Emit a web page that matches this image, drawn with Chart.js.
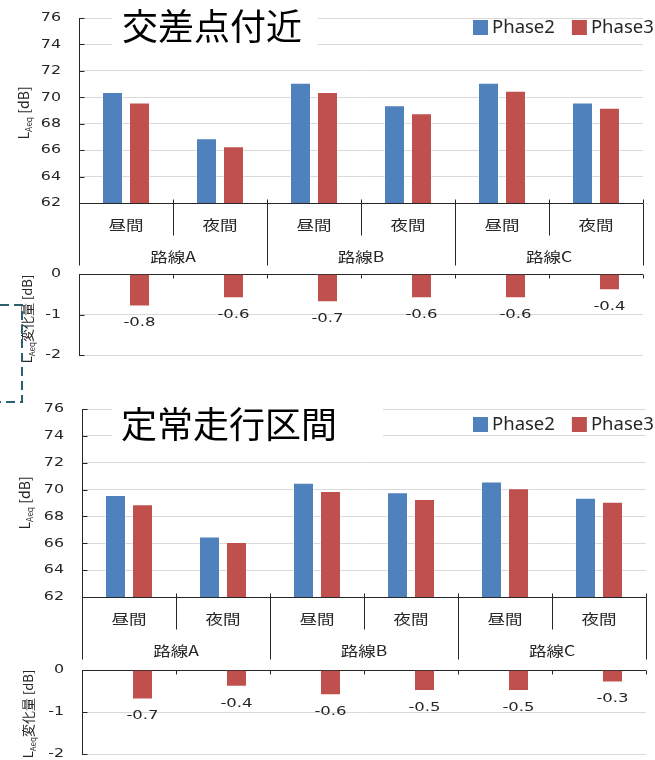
<!DOCTYPE html>
<html lang="ja">
<head>
<meta charset="utf-8">
<title>LAeq Phase2 / Phase3</title>
<script src="https://cdn.jsdelivr.net/npm/chart.js@4.4.1/dist/chart.umd.min.js"></script>
<style>
  html, body { margin: 0; padding: 0; background: #fff; }
  #page { position: relative; width: 655px; height: 760px; overflow: hidden; background: #fff; }
  #page canvas { position: absolute; left: 0; }
  #page svg { position: absolute; left: 0; }
</style>
</head>
<body>
<div id="page">
  <canvas id="crossLevel" width="655" height="270" style="top:0px"></canvas>
  <canvas id="crossChange" width="655" height="138" style="top:262px"></canvas>
  <canvas id="cruiseLevel" width="655" height="270" style="top:395px"></canvas>
  <canvas id="cruiseChange" width="655" height="100" style="top:660px"></canvas>
  <svg width="30" height="110" style="top:300px">
    <path d="M0 5 H22 V102 H0" fill="none" stroke="#2a6070" stroke-width="2" stroke-dasharray="9 5"/>
  </svg>
</div>
<script>
// categories
const groups = ['路線A', '路線B', '路線C'];
const periods = ['昼間', '夜間', '昼間', '夜間', '昼間', '夜間'];
const seriesNames = ['Phase2', 'Phase3'];

// tick labels
const levelTicks = [62, 64, 66, 68, 70, 72, 74, 76];
const changeTicks = [0, -1, -2];

// 交差点付近  LAeq [dB]
const crossPhase2 = [70.4, 66.9, 71.1, 69.4, 71.1, 69.6];
const crossPhase3 = [69.6, 66.3, 70.4, 68.8, 70.5, 69.2];
const crossChange = [-0.8, -0.6, -0.7, -0.6, -0.6, -0.4];

// 定常走行区間  LAeq [dB]
const cruisePhase2 = [69.6, 66.5, 70.5, 69.8, 70.6, 69.4];
const cruisePhase3 = [68.9, 66.1, 69.9, 69.3, 70.1, 69.1];
const cruiseChange = [-0.7, -0.4, -0.6, -0.5, -0.5, -0.3];

const noBars = [null, null, null, null, null, null];

const BLUE = '#4F81BD';
const RED = '#C0504D';
const GRID = '#d9d9d9';
const AXIS = '#262626';
const TEXT = '#262626';
const FONT_CJK = '"Noto Sans CJK JP", "Noto Sans CJK SC", sans-serif';
const FONT_NUM = '"DejaVu Sans", Verdana, sans-serif';
const FONT_LATIN = '"Noto Sans", "Open Sans", sans-serif';

// text with an optional horizontal stretch around its anchor point
function drawText(ctx, str, x, y, font, color, align, sx, baseline) {
  ctx.save();
  ctx.font = font;
  ctx.fillStyle = color;
  ctx.textAlign = align || 'center';
  ctx.textBaseline = baseline || 'middle';
  ctx.translate(x, y);
  ctx.scale(sx || 1, 1);
  ctx.fillText(str, 0, 0);
  ctx.restore();
}

// rotated axis title: main + subscript + rest, centred on (cx, cy)
function drawAxisTitle(ctx, t) {
  ctx.save();
  ctx.translate(t.x, t.y);
  ctx.rotate(-Math.PI / 2);
  ctx.fillStyle = TEXT;
  ctx.textAlign = 'left';
  ctx.textBaseline = 'alphabetic';
  const big = `${t.size}px ${FONT_CJK}`;
  const small = `${t.subSize}px ${FONT_CJK}`;
  ctx.font = big;
  const w1 = ctx.measureText(t.main).width;
  const w3 = ctx.measureText(t.rest).width;
  ctx.font = small;
  const w2 = ctx.measureText(t.sub).width;
  let x = -(w1 + w2 + w3) / 2;
  const base = t.size * 0.36;
  ctx.font = big;
  ctx.fillText(t.main, x, base);
  x += w1;
  ctx.font = small;
  ctx.fillText(t.sub, x, base + t.size * 0.22);
  x += w2;
  ctx.font = big;
  ctx.fillText(t.rest, x, base);
  ctx.restore();
}

const panelDecor = {
  id: 'panelDecor',
  afterDraw(chart, args, o) {
    const ctx = chart.ctx;
    const xs = chart.scales.x;
    const ys = chart.scales.y;
    const area = chart.chartArea;
    const n = chart.data.labels.length;
    const half = (xs.getPixelForValue(1) - xs.getPixelForValue(0)) / 2;
    const edges = [];
    for (let i = 0; i <= n; i++) {
      edges.push(i < n ? xs.getPixelForValue(i) - half : xs.getPixelForValue(n - 1) + half);
    }
    const px = v => Math.round(v) + 0.5;
    ctx.save();
    ctx.strokeStyle = AXIS;
    ctx.lineWidth = 1;
    const line = (x1, y1, x2, y2) => {
      ctx.beginPath(); ctx.moveTo(x1, y1); ctx.lineTo(x2, y2); ctx.stroke();
    };

    // value axis: inner tick marks and labels
    ys.ticks.forEach(t => {
      const y = ys.getPixelForValue(t.value);
      line(px(area.left), px(y), px(area.left) + 5, px(y));
      drawText(ctx, String(t.value), area.left - 18, y, `12.5px ${FONT_NUM}`, TEXT, 'right', 1.27);
    });

    if (o.kind === 'level') {
      // two-level category axis below the plot
      const yb = px(area.bottom);
      edges.forEach((x, i) => {
        line(px(x), yb - 4, px(x), yb);
        line(px(x), yb, px(x), yb + (i % 2 === 0 ? 62 : 32));
      });
      chart.data.labels.forEach((lab, i) => {
        drawText(ctx, lab, xs.getPixelForValue(i), area.bottom + 21.5, `14px ${FONT_CJK}`, TEXT, 'center', 1.25);
      });
      groups.forEach((g, k) => {
        const cx = (xs.getPixelForValue(2 * k) + xs.getPixelForValue(2 * k + 1)) / 2;
        drawText(ctx, g, cx, area.bottom + 53.5, `14px ${FONT_CJK}`, TEXT, 'center', 1.25);
      });

      // panel title on a white box
      ctx.fillStyle = '#ffffff';
      ctx.fillRect(o.box[0], o.box[1], o.box[2] - o.box[0], o.box[3] - o.box[1]);
      drawText(ctx, o.title, o.titleX, o.titleY, `36px ${FONT_CJK}`, '#000000', 'center', 1);

      // legend
      let lx = o.legendX;
      chart.data.datasets.forEach(ds => {
        ctx.fillStyle = ds.backgroundColor;
        ctx.fillRect(lx, o.legendY - 7.5, 15, 15);
        ctx.font = `18.5px ${FONT_LATIN}`;
        const w = ctx.measureText(ds.label).width;
        drawText(ctx, ds.label, lx + 19, o.legendY, `18.5px ${FONT_LATIN}`, TEXT, 'left', 1);
        lx += 19 + w + 17;
      });
    } else {
      // category axis along the zero line at the top
      const yt = px(area.top);
      edges.forEach(x => line(px(x), yt, px(x), yt + 4));
      // value labels under the bars
      const ds = chart.data.datasets[1];
      chart.getDatasetMeta(1).data.forEach((bar, i) => {
        drawText(ctx, ds.data[i].toFixed(1), bar.x, bar.y + 16.5, `13px ${FONT_NUM}`, TEXT, 'center', 1.27);
      });
    }

    drawAxisTitle(ctx, o.axisTitle);
    ctx.restore();
  }
};

function baseOptions(frame, yCfg, decor) {
  return {
    responsive: false,
    animation: false,
    devicePixelRatio: 1,
    events: [],
    layout: { padding: { left: 0, right: frame.right, top: frame.top, bottom: frame.bottom } },
    scales: {
      x: { display: false },
      y: {
        min: yCfg.min,
        max: yCfg.max,
        afterBuildTicks: s => { s.ticks = yCfg.ticks.map(v => ({ value: v })); },
        afterFit: s => { s.width = frame.left; },
        ticks: { display: false },
        grid: {
          drawTicks: false,
          lineWidth: 1,
          color: c => (c.tick && c.tick.value === yCfg.base ? AXIS : GRID)
        },
        border: { display: true, color: AXIS, width: 1 }
      }
    },
    plugins: {
      legend: { display: false },
      tooltip: { enabled: false },
      panelDecor: decor
    }
  };
}

const barShape = { categoryPercentage: 0.5745, barPercentage: 0.7778, borderWidth: 1 };

function levelChart(id, p2, p3, frame, decor) {
  return new Chart(document.getElementById(id), {
    type: 'bar',
    data: {
      labels: periods,
      datasets: [
        Object.assign({ label: seriesNames[0], data: p2, backgroundColor: BLUE, borderColor: 'rgba(255,255,255,0.35)' }, barShape),
        Object.assign({ label: seriesNames[1], data: p3, backgroundColor: RED, borderColor: 'rgba(255,255,255,0.35)' }, barShape)
      ]
    },
    options: baseOptions(frame, { min: 62, max: 76, ticks: levelTicks, base: 62 }, Object.assign({ kind: 'level' }, decor)),
    plugins: [panelDecor]
  });
}

function changeChart(id, change, frame, decor) {
  return new Chart(document.getElementById(id), {
    type: 'bar',
    data: {
      labels: periods,
      datasets: [
        Object.assign({ label: seriesNames[0], data: noBars, backgroundColor: BLUE }, barShape),
        Object.assign({ label: seriesNames[1], data: change, backgroundColor: RED, borderColor: 'rgba(255,255,255,0.35)' }, barShape)
      ]
    },
    options: baseOptions(frame, { min: -2, max: 0, ticks: changeTicks, base: 0 }, Object.assign({ kind: 'change' }, decor)),
    plugins: [panelDecor]
  });
}

levelChart('crossLevel', crossPhase2, crossPhase3,
  { left: 79, right: 12, top: 18, bottom: 67 },
  {
    title: '交差点付近', titleX: 212, titleY: 26, box: [112, 4, 318, 50],
    legendX: 473, legendY: 27.5,
    axisTitle: { x: 24, y: 113, main: 'L', sub: 'Aeq', rest: ' [dB]', size: 14, subSize: 8.5 }
  });

changeChart('crossChange', crossChange,
  { left: 79, right: 12, top: 12, bottom: 45 },
  { axisTitle: { x: 27, y: 57, main: 'L', sub: 'Aeq', rest: '変化量 [dB]', size: 13, subSize: 8 } });

levelChart('cruiseLevel', cruisePhase2, cruisePhase3,
  { left: 82, right: 9, top: 14, bottom: 68 },
  {
    title: '定常走行区間', titleX: 229, titleY: 29, box: [112, 3, 383, 55],
    legendX: 473, legendY: 29.5,
    axisTitle: { x: 25, y: 108, main: 'L', sub: 'Aeq', rest: ' [dB]', size: 14, subSize: 8.5 }
  });

changeChart('cruiseChange', cruiseChange,
  { left: 82, right: 9, top: 10, bottom: 6 },
  { axisTitle: { x: 28, y: 54, main: 'L', sub: 'Aeq', rest: '変化量 [dB]', size: 13, subSize: 8 } });
</script>
</body>
</html>
